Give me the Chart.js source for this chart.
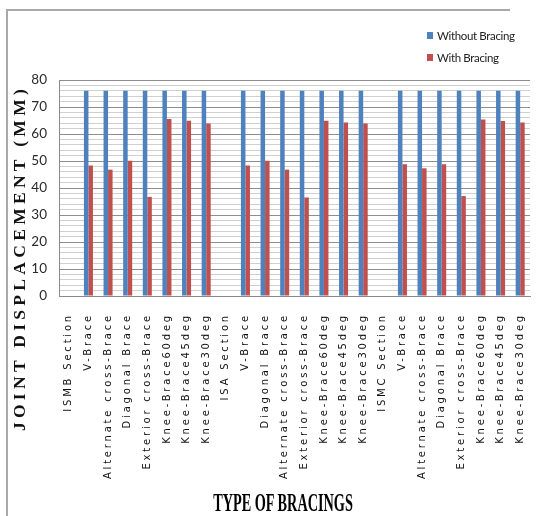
<!DOCTYPE html>
<html>
<head>
<meta charset="utf-8">
<script src="https://cdn.jsdelivr.net/npm/chart.js@4/dist/chart.umd.min.js"></script>
<style>
  html, body { margin: 0; padding: 0; background: #fff; }
  #wrap { position: relative; width: 545px; height: 516px; overflow: hidden; }
  #frame { position: absolute; left: 6px; top: 9px; width: 502px; height: 540px;
           border-left: 2px solid #a9a9a9; border-top: 2px solid #a9a9a9; }
  #chart { position: absolute; left: 0; top: 0; }
  #legend { position: absolute; left: 427px; top: 28px;
            font-family: Lato, "Liberation Sans", sans-serif;
            font-size: 11.5px; letter-spacing: -0.35px; color: #222; }
  #legend .item { display: flex; align-items: center; height: 15px; margin-bottom: 7px; white-space: nowrap; }
  #legend .box { width: 6px; height: 7px; margin-right: 4px; }
  #ytitle { position: absolute; left: -161px; top: 248px; width: 360px; height: 20px; line-height: 20px;
            text-align: center; transform: rotate(-90deg); transform-origin: 50% 50%;
            font-family: "Liberation Serif", serif; font-weight: bold; font-size: 17.5px;
            letter-spacing: 4.3px; color: #111; white-space: nowrap; }
  #xtitle { position: absolute; left: 133px; top: 490px; width: 300px; height: 25px; line-height: 25px;
            text-align: center; transform: scaleX(0.57); transform-origin: 50% 50%;
            font-family: "Liberation Serif", serif; font-weight: bold; font-size: 25px;
            color: #000; white-space: nowrap; }
</style>
</head>
<body>
<div id="wrap">
  <div id="frame"></div>
  <canvas id="chart" width="545" height="516"></canvas>
  <div id="legend"></div>
  <div id="ytitle">JOINT DISPLACEMENT (MM)</div>
  <div id="xtitle">TYPE OF BRACINGS</div>
</div>
<script>
// Bracing types, grouped by section (ISMB, ISA, ISMC)
const categories = [
  'ISMB Section', 'V-Brace', 'Alternate cross-Brace', 'Diagonal Brace', 'Exterior cross-Brace',
  'Knee-Brace60deg', 'Knee-Brace45deg', 'Knee-Brace30deg',
  'ISA Section', 'V-Brace', 'Diagonal Brace', 'Alternate cross-Brace', 'Exterior cross-Brace',
  'Knee-Brace60deg', 'Knee-Brace45deg', 'Knee-Brace30deg',
  'ISMC Section', 'V-Brace', 'Alternate cross-Brace', 'Diagonal Brace', 'Exterior cross-Brace',
  'Knee-Brace60deg', 'Knee-Brace45deg', 'Knee-Brace30deg'
];

// Joint displacement (mm)
const withoutBracing = [
  null, 76, 76, 76, 76, 76, 76, 76,
  null, 76, 76, 76, 76, 76, 76, 76,
  null, 76, 76, 76, 76, 76, 76, 76
];
const withBracing = [
  null, 48.3, 46.8, 50.1, 36.7, 65.6, 64.9, 63.9,
  null, 48.3, 50.1, 46.8, 36.5, 64.9, 64.3, 63.9,
  null, 48.8, 47.3, 48.8, 37.0, 65.4, 64.8, 64.3
];

const yMin = 0, yMax = 80, yMajor = 10, yMinor = 2;

const seriesNames = ['Without Bracing', 'With Bracing'];
const seriesColors = ['#4F81BD', '#C0504D'];

// Wider letter spacing for the category labels; the value labels are drawn after the bars without it
const labelSpacing = {
  id: 'labelSpacing',
  beforeDraw(chart) { chart.ctx.letterSpacing = '2.8px'; },
  afterDatasetsDraw(chart) { chart.ctx.letterSpacing = '0px'; },
  afterDraw(chart) { chart.ctx.letterSpacing = '0px'; }
};

const chart = new Chart(document.getElementById('chart'), {
  type: 'bar',
  data: {
    labels: categories,
    datasets: [
      { label: seriesNames[0], data: withoutBracing, backgroundColor: seriesColors[0] },
      { label: seriesNames[1], data: withBracing, backgroundColor: seriesColors[1] }
    ]
  },
  options: {
    responsive: false,
    animation: false,
    devicePixelRatio: 1,
    categoryPercentage: 0.46,
    barPercentage: 1.0,
    layout: { padding: { top: 80, right: 15, left: 0, bottom: 0 } },
    plugins: { legend: { display: false }, tooltip: { enabled: false } },
    scales: {
      x: {
        grid: { display: false },
        border: { display: true, color: '#8a8a8a', width: 1 },
        ticks: {
          autoSkip: false, minRotation: 90, maxRotation: 90, padding: 9,
          color: '#111',
          font: { family: '"DejaVu Sans", Verdana, sans-serif', size: 10 }
        },
        afterFit(scale) { scale.height = 220; }
      },
      y: {
        min: yMin, max: yMax,
        grid: {
          drawTicks: false, lineWidth: 1,
          color: (ctx) => (ctx.tick && ctx.tick.value % yMajor === 0) ? '#8e8e8e' : '#d0d0d0'
        },
        border: { display: true, color: '#8a8a8a', width: 1 },
        ticks: {
          stepSize: yMinor, autoSkip: false, padding: 12, z: 1,
          color: '#2a2a2a',
          font: { family: 'Lato, "Liberation Sans", sans-serif', size: 13.5 },
          callback: (v) => (v % yMajor === 0 ? String(v) : '')
        },
        afterFit(scale) { scale.width = 59; }
      }
    }
  },
  plugins: [labelSpacing]
});

// Legend, stacked vertically in the top-right corner
const legend = document.getElementById('legend');
chart.data.datasets.forEach((ds) => {
  const item = document.createElement('div');
  item.className = 'item';
  const box = document.createElement('span');
  box.className = 'box';
  box.style.background = ds.backgroundColor;
  const txt = document.createElement('span');
  txt.textContent = ds.label;
  item.appendChild(box);
  item.appendChild(txt);
  legend.appendChild(item);
});
</script>
</body>
</html>
